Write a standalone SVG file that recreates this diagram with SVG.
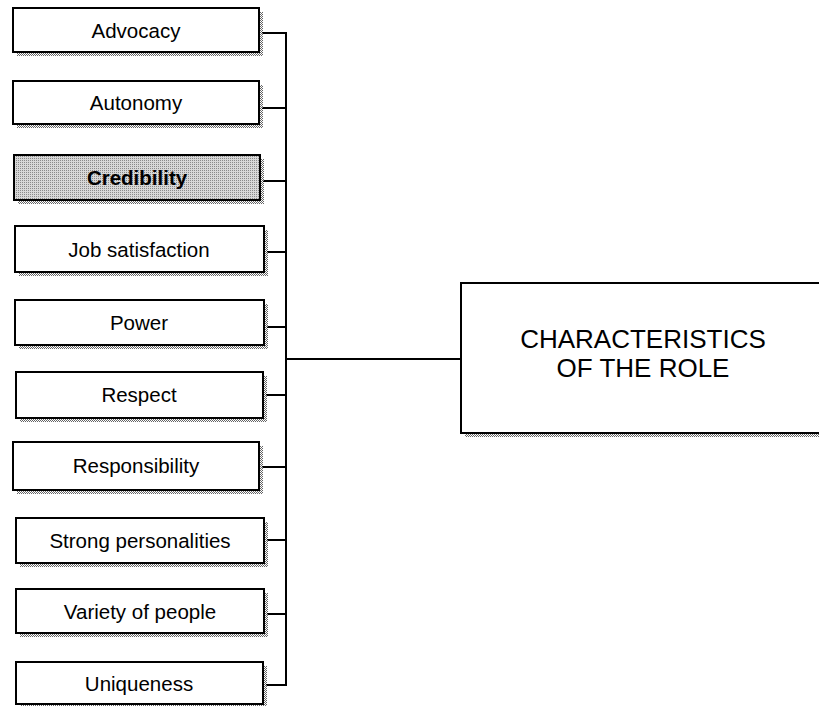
<svg xmlns="http://www.w3.org/2000/svg" width="819" height="706" viewBox="0 0 819 706">
<defs>
<pattern id="dither" width="2" height="2" patternUnits="userSpaceOnUse">
<rect width="2" height="2" fill="#ffffff"/>
<rect width="1" height="1" fill="#000000"/>
<rect x="1" y="1" width="1" height="1" fill="#000000"/>
</pattern>
<pattern id="lightdither" width="2" height="2" patternUnits="userSpaceOnUse">
<rect width="2" height="2" fill="#d8d8d8"/>
<rect width="1" height="1" fill="#8a8a8a"/>
</pattern>
</defs>
<style>
.shadow{fill:url(#dither);opacity:0.6}
.box{fill:#ffffff;stroke:#000000;stroke-width:2}
.hl{fill:url(#lightdither);stroke:#000000;stroke-width:2}
.lbl{font-family:"Liberation Sans",Arial,sans-serif;font-size:20.5px;fill:#000000;text-anchor:middle}
.bold{font-weight:bold}
.big{font-family:"Liberation Sans",Arial,sans-serif;font-size:26px;fill:#000000;text-anchor:middle}
.conn{stroke:#000000;stroke-width:2;fill:none}
</style>
<rect width="819" height="706" fill="#ffffff"/>

<g id="connectors">
<line class="conn" x1="286" y1="33" x2="286" y2="685"/>
<line class="conn" x1="262" y1="33" x2="287" y2="33"/>
<line class="conn" x1="262" y1="108" x2="287" y2="108"/>
<line class="conn" x1="263" y1="181" x2="287" y2="181"/>
<line class="conn" x1="267" y1="252" x2="287" y2="252"/>
<line class="conn" x1="267" y1="327" x2="287" y2="327"/>
<line class="conn" x1="266" y1="395" x2="287" y2="395"/>
<line class="conn" x1="262" y1="467" x2="287" y2="467"/>
<line class="conn" x1="267" y1="540" x2="287" y2="540"/>
<line class="conn" x1="267" y1="614" x2="287" y2="614"/>
<line class="conn" x1="266" y1="685" x2="287" y2="685"/>
<line class="conn" x1="286" y1="359" x2="462" y2="359"/>
</g>

<g id="advocacy">
<rect class="shadow" x="17" y="12" width="246" height="44"/>
<rect class="box" x="13" y="8" width="246" height="44"/>
<text class="lbl" x="136" y="38">Advocacy</text>
</g>
<g id="autonomy">
<rect class="shadow" x="17" y="85" width="246" height="43"/>
<rect class="box" x="13" y="81" width="246" height="43"/>
<text class="lbl" x="136" y="110">Autonomy</text>
</g>
<g id="credibility">
<rect class="shadow" x="18" y="159" width="246" height="45"/>
<rect class="hl" x="14" y="155" width="246" height="45"/>
<text class="lbl bold" x="137" y="185">Credibility</text>
</g>
<g id="job-satisfaction">
<rect class="shadow" x="19" y="230" width="249" height="46"/>
<rect class="box" x="15" y="226" width="249" height="46"/>
<text class="lbl" x="139" y="257">Job satisfaction</text>
</g>
<g id="power">
<rect class="shadow" x="19" y="304" width="249" height="45"/>
<rect class="box" x="15" y="300" width="249" height="45"/>
<text class="lbl" x="139" y="330">Power</text>
</g>
<g id="respect">
<rect class="shadow" x="20" y="376" width="247" height="46"/>
<rect class="box" x="16" y="372" width="247" height="46"/>
<text class="lbl" x="139" y="402">Respect</text>
</g>
<g id="responsibility">
<rect class="shadow" x="17" y="446" width="246" height="48"/>
<rect class="box" x="13" y="442" width="246" height="48"/>
<text class="lbl" x="136" y="473">Responsibility</text>
</g>
<g id="strong-personalities">
<rect class="shadow" x="20" y="522" width="248" height="45"/>
<rect class="box" x="16" y="518" width="248" height="45"/>
<text class="lbl" x="140" y="548">Strong personalities</text>
</g>
<g id="variety-of-people">
<rect class="shadow" x="20" y="593" width="248" height="44"/>
<rect class="box" x="16" y="589" width="248" height="44"/>
<text class="lbl" x="140" y="619">Variety of people</text>
</g>
<g id="uniqueness">
<rect class="shadow" x="20" y="666" width="247" height="42"/>
<rect class="box" x="16" y="662" width="247" height="42"/>
<text class="lbl" x="139" y="691">Uniqueness</text>
</g>

<g id="characteristics">
<rect class="shadow" x="465" y="287" width="370" height="150"/>
<rect class="box" x="461" y="283" width="370" height="150"/>
<text class="big" x="643" y="348">CHARACTERISTICS</text>
<text class="big" x="643" y="377">OF THE ROLE</text>
</g>
</svg>
